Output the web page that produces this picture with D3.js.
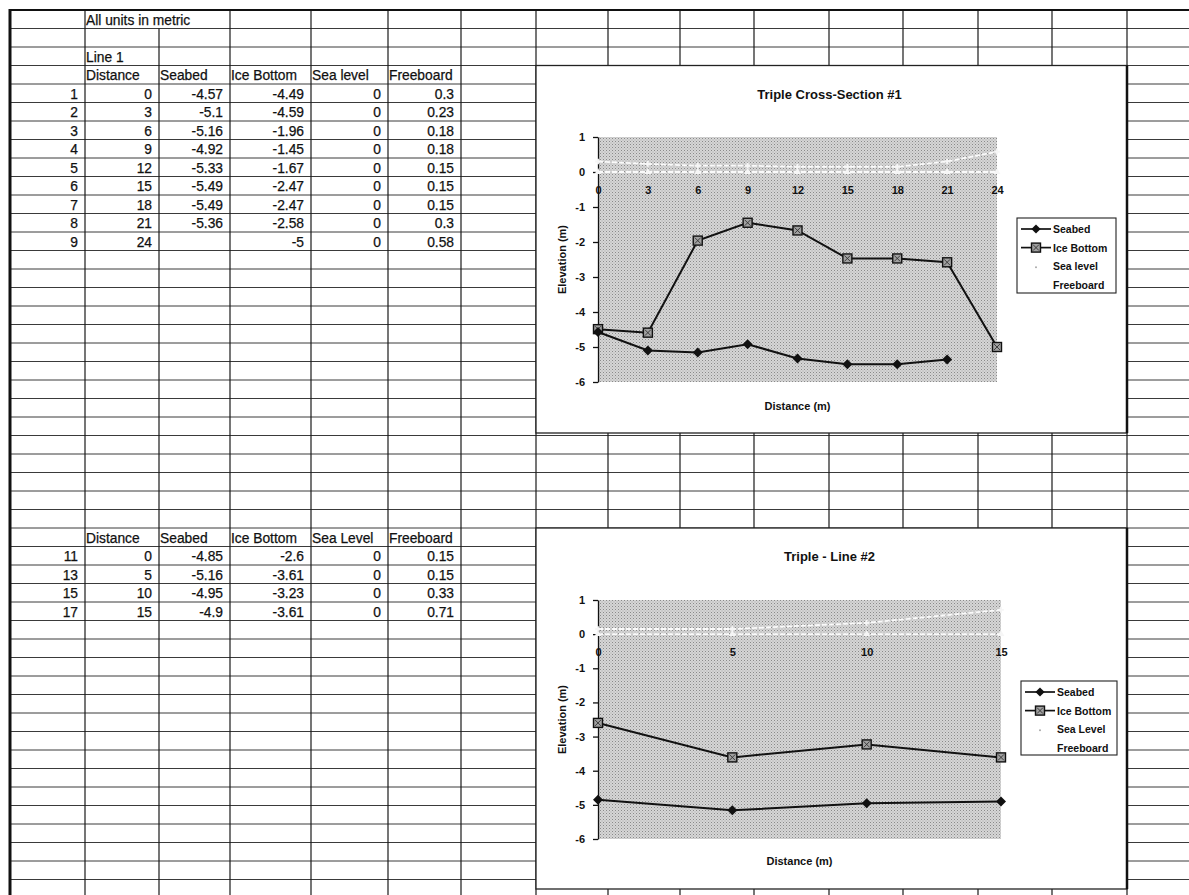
<!DOCTYPE html>
<html><head><meta charset="utf-8">
<script src="https://cdn.jsdelivr.net/npm/d3@7"></script>
<style>
html,body{margin:0;padding:0;background:#fff;}
svg{display:block;font-family:"Liberation Sans",Arial,sans-serif;}
</style></head><body>
<svg id="c" width="1189" height="895"></svg>
<script>
// ---------- DATA ----------
const line1Labels = [1,2,3,4,5,6,7,8,9];
const line1Distance = [0,3,6,9,12,15,18,21,24];
const line1Seabed = [-4.57,-5.1,-5.16,-4.92,-5.33,-5.49,-5.49,-5.36,null];
const line1IceBottom = [-4.49,-4.59,-1.96,-1.45,-1.67,-2.47,-2.47,-2.58,-5];
const line1SeaLevel = [0,0,0,0,0,0,0,0,0];
const line1Freeboard = [0.3,0.23,0.18,0.18,0.15,0.15,0.15,0.3,0.58];
const line1Headers = ["Distance","Seabed","Ice Bottom","Sea level","Freeboard"];
const line1SeriesNames = ["Seabed","Ice Bottom","Sea level","Freeboard"];

const line2Labels = [11,13,15,17];
const line2Distance = [0,5,10,15];
const line2Seabed = [-4.85,-5.16,-4.95,-4.9];
const line2IceBottom = [-2.6,-3.61,-3.23,-3.61];
const line2SeaLevel = [0,0,0,0];
const line2Freeboard = [0.15,0.15,0.33,0.71];
const line2Headers = ["Distance","Seabed","Ice Bottom","Sea Level","Freeboard"];
const line2SeriesNames = ["Seabed","Ice Bottom","Sea Level","Freeboard"];

const elevationTicks = [1,0,-1,-2,-3,-4,-5,-6];
const chartTitles = ["Triple Cross-Section #1","Triple - Line #2"];
const sheetNote = "All units in metric";
const line1Caption = "Line 1";

// ---------- LAYOUT ----------
const W = 1189, H = 895;
const ROW_TOP = 10, ROW_H = 18.5;
const rowY = k => ROW_TOP + k * ROW_H;
const NROWS = Math.ceil((H - ROW_TOP) / ROW_H) + 1;
const colLines = [85,159,230,311,388,461,536,608,680,754,829,903,978,1052,1127];
const dataCols = [[85,159],[159,230],[230,311],[311,388],[388,461]];
const labelColRight = 85;

const svg = d3.select("#c");
svg.append("rect").attr("width",W).attr("height",H).attr("fill","#fff");

// halftone pattern for plot area
const defs = svg.append("defs");
const pat = defs.append("pattern").attr("id","half").attr("width",3).attr("height",3)
  .attr("patternUnits","userSpaceOnUse");
pat.append("rect").attr("width",3).attr("height",3).attr("fill","#d6d6d6");
pat.append("rect").attr("x",0).attr("y",0).attr("width",1).attr("height",1).attr("fill","#8a8a8a");
pat.append("rect").attr("x",1.5).attr("y",1.5).attr("width",1).attr("height",1).attr("fill","#a6a6a6");

// ---------- SHEET GRID ----------
const grid = svg.append("g");
d3.range(1, NROWS).forEach(k => {
  const y = rowY(k);
  if (y > H) return;
  grid.append("line").attr("x1",10).attr("x2",W).attr("y1",y).attr("y2",y)
    .attr("stroke","#3a3a3a").attr("stroke-width",1);
});
colLines.forEach(x => {
  const y1 = (x === 159) ? rowY(1) : rowY(0);
  grid.append("line").attr("x1",x).attr("x2",x).attr("y1",y1).attr("y2",H)
    .attr("stroke","#1a1a1a").attr("stroke-width",1.2);
});
// top and left borders
grid.append("line").attr("x1",9).attr("x2",W).attr("y1",rowY(0)).attr("y2",rowY(0))
  .attr("stroke","#111").attr("stroke-width",2);
grid.append("line").attr("x1",10).attr("x2",10).attr("y1",rowY(0)-1).attr("y2",H)
  .attr("stroke","#111").attr("stroke-width",3);

// ---------- TABLE TEXT ----------
const tbl = svg.append("g").attr("font-size",13.8).attr("fill","#111")
  .attr("stroke","#111").attr("stroke-width",0.25);
function cellText(k, x, txt, anchor) {
  tbl.append("text").attr("x",x).attr("y",rowY(k) + ROW_H/2 + 1)
    .attr("dominant-baseline","central").attr("text-anchor",anchor).text(txt);
}
cellText(0, dataCols[0][0] + 1, sheetNote, "start");
cellText(2, dataCols[0][0] + 1, line1Caption, "start");
function drawTable(headerRow, headers, labels, cols) {
  headers.forEach((h,i) => cellText(headerRow, dataCols[i][0] + 1, h, "start"));
  labels.forEach((lab, r) => {
    const k = headerRow + 1 + r;
    cellText(k, labelColRight - 7, String(lab), "end");
    cols.forEach((arr, i) => {
      const v = arr[r];
      if (v === null || v === undefined) return;
      cellText(k, dataCols[i][1] - 7, String(v), "end");
    });
  });
}
drawTable(3, line1Headers, line1Labels, [line1Distance,line1Seabed,line1IceBottom,line1SeaLevel,line1Freeboard]);
drawTable(28, line2Headers, line2Labels, [line2Distance,line2Seabed,line2IceBottom,line2SeaLevel,line2Freeboard]);

// ---------- CHARTS ----------
function diamondPath(r){ return `M0,${-r}L${r},0L0,${r}L${-r},0Z`; }

function drawChart(cfg) {
  const g = svg.append("g");
  const b = cfg.box;
  g.append("rect").attr("x",b.x0).attr("y",b.y0).attr("width",b.x1-b.x0).attr("height",b.y1-b.y0)
    .attr("fill","#fff").attr("stroke","#222").attr("stroke-width",1.3);
  g.append("line").attr("x1",b.x1).attr("x2",b.x1).attr("y1",b.y0).attr("y2",b.y1)
    .attr("stroke","#111").attr("stroke-width",2.5);

  const x = d3.scalePoint().domain(cfg.distance).range([cfg.plotLeft, cfg.plotRight]).padding(0);
  const y = d3.scaleLinear().domain([-6,1]).range([cfg.plotBottom, cfg.plotTop]);

  // plot area
  g.append("rect").attr("x",cfg.plotLeft).attr("y",y(1))
    .attr("width",cfg.plotRight-cfg.plotLeft).attr("height",y(-6)-y(1))
    .attr("fill","url(#half)");

  // title
  g.append("text").attr("x",(b.x0+b.x1)/2 - 2).attr("y",cfg.titleY)
    .attr("text-anchor","middle").attr("dominant-baseline","central")
    .attr("font-weight","bold").attr("font-size",13).attr("fill","#111").text(cfg.title);

  // y axis
  const ya = g.append("g").attr("transform",`translate(${cfg.plotLeft},0)`)
    .call(d3.axisLeft(y).tickValues(elevationTicks).tickSize(5).tickSizeOuter(0).tickPadding(8)
      .tickFormat(d => String(d)));
  ya.selectAll("path,line").attr("stroke","#111").attr("stroke-width",1.3);
  ya.selectAll("text").attr("font-size",11).attr("font-weight","bold").attr("fill","#111")
    .attr("font-family","Liberation Sans, Arial, sans-serif");

  // x tick labels (category axis crosses at 0)
  const xa = g.append("g").attr("transform",`translate(0,${y(0)})`)
    .call(d3.axisBottom(x).tickSize(0).tickPadding(14).tickFormat(d => String(d)));
  xa.select(".domain").remove();
  xa.selectAll("text").attr("font-size",11).attr("font-weight","bold").attr("fill","#111")
    .attr("font-family","Liberation Sans, Arial, sans-serif");

  // axis titles
  g.append("text").attr("x",(cfg.plotLeft+cfg.plotRight)/2).attr("y",cfg.xTitleY)
    .attr("text-anchor","middle").attr("dominant-baseline","central")
    .attr("font-weight","bold").attr("font-size",11).attr("fill","#111").text("Distance (m)");
  g.append("text").attr("transform",`translate(${cfg.yTitleX},${(y(1)+y(-6))/2}) rotate(-90)`)
    .attr("text-anchor","middle").attr("dominant-baseline","central")
    .attr("font-weight","bold").attr("font-size",11).attr("fill","#111").text("Elevation (m)");

  const pts = arr => cfg.distance.map((d,i) => ({d, v: arr[i]}));
  const lineGen = d3.line().defined(p => p.v !== null).x(p => x(p.d)).y(p => y(p.v));

  // light series (sea level, freeboard) drawn as near-white dashed lines
  [cfg.sea, cfg.free].forEach((arr, si) => {
    g.append("path").datum(pts(arr)).attr("d",lineGen).attr("fill","none")
      .attr("stroke","#fafafa").attr("stroke-width",1.8).attr("stroke-dasharray","5,2");
    g.selectAll(null).data(pts(arr)).join("path")
      .attr("transform",p => `translate(${x(p.d)},${y(p.v)})`)
      .attr("d", si === 0 ? d3.symbol(d3.symbolTriangle, 20)() : d3.symbol(d3.symbolCross, 18)())
      .attr("fill","#f6f6f6");
  });

  // ice bottom
  g.append("path").datum(pts(cfg.ice)).attr("d",lineGen).attr("fill","none")
    .attr("stroke","#111").attr("stroke-width",2);
  // seabed
  g.append("path").datum(pts(cfg.seabed)).attr("d",lineGen).attr("fill","none")
    .attr("stroke","#111").attr("stroke-width",2);

  function iceMarker(sel){
    sel.append("rect").attr("x",-4.5).attr("y",-4.5).attr("width",9).attr("height",9)
      .attr("fill","#a0a0a0").attr("stroke","#111").attr("stroke-width",1.4);
    sel.append("path").attr("d","M-3,-3L3,3M3,-3L-3,3").attr("stroke","#333").attr("stroke-width",0.9);
  }
  const iceG = g.selectAll(null).data(pts(cfg.ice).filter(p => p.v !== null)).join("g")
    .attr("transform",p => `translate(${x(p.d)},${y(p.v)})`);
  iceG.each(function(){ iceMarker(d3.select(this)); });
  g.selectAll(null).data(pts(cfg.seabed).filter(p => p.v !== null)).join("path")
    .attr("transform",p => `translate(${x(p.d)},${y(p.v)})`)
    .attr("d",diamondPath(5)).attr("fill","#111");

  // legend
  const L = cfg.legend;
  g.append("rect").attr("x",L.x).attr("y",L.y).attr("width",L.w).attr("height",L.h)
    .attr("fill","#fff").attr("stroke","#222").attr("stroke-width",1.1);
  cfg.names.forEach((name, i) => {
    const cy = L.y + 11 + i * 18.6;
    const lg = g.append("g");
    if (i < 2) {
      lg.append("line").attr("x1",L.x+4).attr("x2",L.x+34).attr("y1",cy).attr("y2",cy)
        .attr("stroke","#111").attr("stroke-width",1.7);
      const m = lg.append("g").attr("transform",`translate(${L.x+19},${cy})`);
      if (i === 0) m.append("path").attr("d",diamondPath(4.6)).attr("fill","#111");
      else iceMarker(m);
    } else if (i === 2) {
      lg.append("circle").attr("cx",L.x+19).attr("cy",cy+1).attr("r",1).attr("fill","#aaa");
    }
    lg.append("text").attr("x",L.x+36).attr("y",cy).attr("dominant-baseline","central")
      .attr("font-size",10.5).attr("font-weight","bold").attr("fill","#111").text(name);
  });
}

drawChart({
  box:{x0:536,y0:65.5,x1:1127,y1:433},
  title: chartTitles[0], titleY: 94,
  plotLeft:598, plotRight:997, plotTop:137, plotBottom:382,
  xTitleY:406, yTitleX:562,
  distance: line1Distance, seabed: line1Seabed, ice: line1IceBottom, sea: line1SeaLevel, free: line1Freeboard,
  legend:{x:1017,y:218,w:99,h:75}, names: line1SeriesNames
});
drawChart({
  box:{x0:536,y0:528,x1:1127,y1:889},
  title: chartTitles[1], titleY: 556,
  plotLeft:598, plotRight:1001, plotTop:600, plotBottom:839,
  xTitleY:861, yTitleX:562,
  distance: line2Distance, seabed: line2Seabed, ice: line2IceBottom, sea: line2SeaLevel, free: line2Freeboard,
  legend:{x:1021,y:681,w:96,h:74}, names: line2SeriesNames
});
</script></body></html>
